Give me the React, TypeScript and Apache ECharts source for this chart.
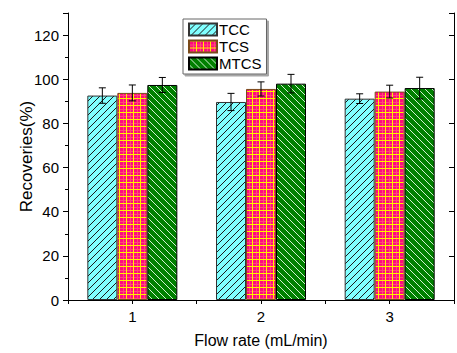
import React, { useEffect, useRef } from "react";
import * as echarts from "echarts";

const categories = [1, 2, 3];
const seriesNames = ["TCC", "TCS", "MTCS"];
const tccValues = [92.6, 89.7, 91.2];
const tcsValues = [93.8, 95.6, 94.4];
const mtcsValues = [97.4, 98.0, 96.0];
const tccErrors = [3.5, 3.9, 2.2];
const tcsErrors = [3.6, 3.2, 2.9];
const mtcsErrors = [3.4, 4.2, 4.9];
const yTicks = [0, 20, 40, 60, 80, 100, 120];

function makeTile(size: number, draw: (ctx: CanvasRenderingContext2D) => void) {
  const c = document.createElement("canvas");
  c.width = size;
  c.height = size;
  const ctx = c.getContext("2d")!;
  draw(ctx);
  return c;
}

export default function App() {
  const ref = useRef<HTMLDivElement>(null);
  useEffect(() => {
    if (!ref.current) return;
    const chart = echarts.init(ref.current, undefined, { renderer: "svg" });

    const T = 7;
    const tccTile = makeTile(T, (ctx) => {
      ctx.fillStyle = "#80FFFF";
      ctx.fillRect(0, 0, T, T);
      ctx.strokeStyle = "#1a1a1a";
      ctx.lineWidth = 1;
      ctx.beginPath();
      ctx.moveTo(0, T); ctx.lineTo(T, 0);
      ctx.moveTo(-2, 2); ctx.lineTo(2, -2);
      ctx.moveTo(T - 2, T + 2); ctx.lineTo(T + 2, T - 2);
      ctx.stroke();
    });
    const tcsTile = makeTile(7, (ctx) => {
      ctx.fillStyle = "#FF0A7E";
      ctx.fillRect(0, 0, 7, 7);
      ctx.fillStyle = "#FF4A78";
      ctx.fillRect(4, 0, 1, 7);
      ctx.fillRect(0, 4, 7, 1);
      ctx.fillStyle = "#FFF000";
      ctx.fillRect(0, 0, 1, 7);
      ctx.fillRect(0, 0, 7, 1);
    });
    const mtcsTile = makeTile(T, (ctx) => {
      ctx.fillStyle = "#008000";
      ctx.fillRect(0, 0, T, T);
      ctx.strokeStyle = "#D0F0D0";
      ctx.lineWidth = 1;
      ctx.beginPath();
      ctx.moveTo(0, 0); ctx.lineTo(T, T);
      ctx.moveTo(-2, T - 2); ctx.lineTo(2, T + 2);
      ctx.moveTo(T - 2, -2); ctx.lineTo(T + 2, 2);
      ctx.stroke();
    });

    const fills = [
      { image: tccTile, repeat: "repeat" },
      { image: tcsTile, repeat: "repeat" },
      { image: mtcsTile, repeat: "repeat" },
    ];
    const borders = ["#333333", "#7a4a1a", "#000000"];
    const values = [tccValues, tcsValues, mtcsValues];
    const errors = [tccErrors, tcsErrors, mtcsErrors];
    const barW = 30;

    const barSeries = seriesNames.map((name, i) => ({
      name,
      type: "bar",
      xAxisIndex: 0,
      yAxisIndex: 0,
      barWidth: barW,
      barGap: "0%",
      data: categories.map((c, j) => [c, values[i][j]]),
      itemStyle: { color: fills[i] as any, borderColor: borders[i], borderWidth: 1 },
    }));

    const errSeries = seriesNames.map((name, i) => ({
      name: name + "_err",
      type: "custom",
      xAxisIndex: 0,
      yAxisIndex: 0,
      z: 10,
      data: categories.map((c, j) => [c, values[i][j], errors[i][j]]),
      renderItem: (params: any, api: any) => {
        const x = api.value(0);
        const v = api.value(1);
        const e = api.value(2);
        const hi = api.coord([x, v + e]);
        const lo = api.coord([x, v - e]);
        const px = hi[0] + (i - 1) * barW;
        const cap = 3.5;
        const st = { stroke: "#000", lineWidth: 1 };
        return {
          type: "group",
          children: [
            { type: "line", shape: { x1: px, y1: hi[1], x2: px, y2: lo[1] }, style: st },
            { type: "line", shape: { x1: px - cap, y1: hi[1], x2: px + cap, y2: hi[1] }, style: st },
            { type: "line", shape: { x1: px - cap, y1: lo[1], x2: px + cap, y2: lo[1] }, style: st },
          ],
        };
      },
    }));

    const font = "'Liberation Sans', Arial, sans-serif";
    const axisLine = { show: true, lineStyle: { color: "#000", width: 1 } };

    chart.setOption({
      animation: false,
      grid: { left: 68, right: 1, top: 13, bottom: 51 },
      legend: {
        data: seriesNames,
        orient: "vertical",
        left: 183,
        top: 19,
        icon: "rect",
        itemWidth: 28,
        itemHeight: 12,
        itemGap: 2,
        padding: [3, 5, 3, 5],
        borderColor: "#666",
        borderWidth: 1,
        backgroundColor: "#fff",
        shadowColor: "rgba(0,0,0,0.35)",
        shadowOffsetX: 2,
        shadowOffsetY: 2,
        shadowBlur: 0,
        textStyle: { fontFamily: font, fontSize: 15, color: "#000", padding: [0, 0, 0, -3] },
      },
      xAxis: [
        {
          type: "value",
          position: "bottom",
          min: 0.5,
          max: 3.5,
          interval: 0.5,
          axisLine,
          splitLine: { show: false },
          axisTick: { show: true, length: 4, lineStyle: { color: "#000" } },
          axisLabel: {
            fontFamily: font,
            fontSize: 15,
            color: "#000",
            margin: 9,
            formatter: (v: number) => (categories.indexOf(v) >= 0 ? String(v) : ""),
          },
          name: "Flow rate (mL/min)",
          nameLocation: "middle",
          nameGap: 32,
          nameMoveOverlap: false,
          nameTextStyle: { fontFamily: font, fontSize: 16, color: "#000" },
        },
        {
          type: "value",
          position: "top",
          min: 0.5,
          max: 3.5,
          interval: 0.5,
          axisLine,
          splitLine: { show: false },
          axisTick: { show: true, inside: true, length: 4, lineStyle: { color: "#000" } },
          axisLabel: { show: false },
        },
      ],
      yAxis: [
        {
          type: "value",
          position: "left",
          min: 0,
          max: 130,
          interval: 20,
          axisLine,
          splitLine: { show: false },
          axisTick: { show: true, length: 5, lineStyle: { color: "#000" } },
          minorTick: { show: true, splitNumber: 2, length: 3, lineStyle: { color: "#000" } },
          axisLabel: {
            fontFamily: font,
            fontSize: 15,
            color: "#000",
            margin: 9,
            showMaxLabel: false,
            formatter: (v: number) => (yTicks.indexOf(v) >= 0 ? String(v) : ""),
          },
          name: "Recoveries(%)",
          nameLocation: "middle",
          nameGap: 33,
          nameMoveOverlap: false,
          nameTextStyle: { fontFamily: font, fontSize: 17, color: "#000" },
        },
        {
          type: "value",
          position: "right",
          min: 0,
          max: 130,
          interval: 20,
          axisLine,
          splitLine: { show: false },
          axisTick: { show: true, inside: true, length: 5, lineStyle: { color: "#000" } },
          axisLabel: { show: false },
        },
      ],
      series: [...barSeries, ...errSeries] as any,
    });
    return () => chart.dispose();
  }, []);
  return <div ref={ref} style={{ width: 457, height: 353, position: "absolute", left: 0, top: 0, background: "#fff" }} />;
}
